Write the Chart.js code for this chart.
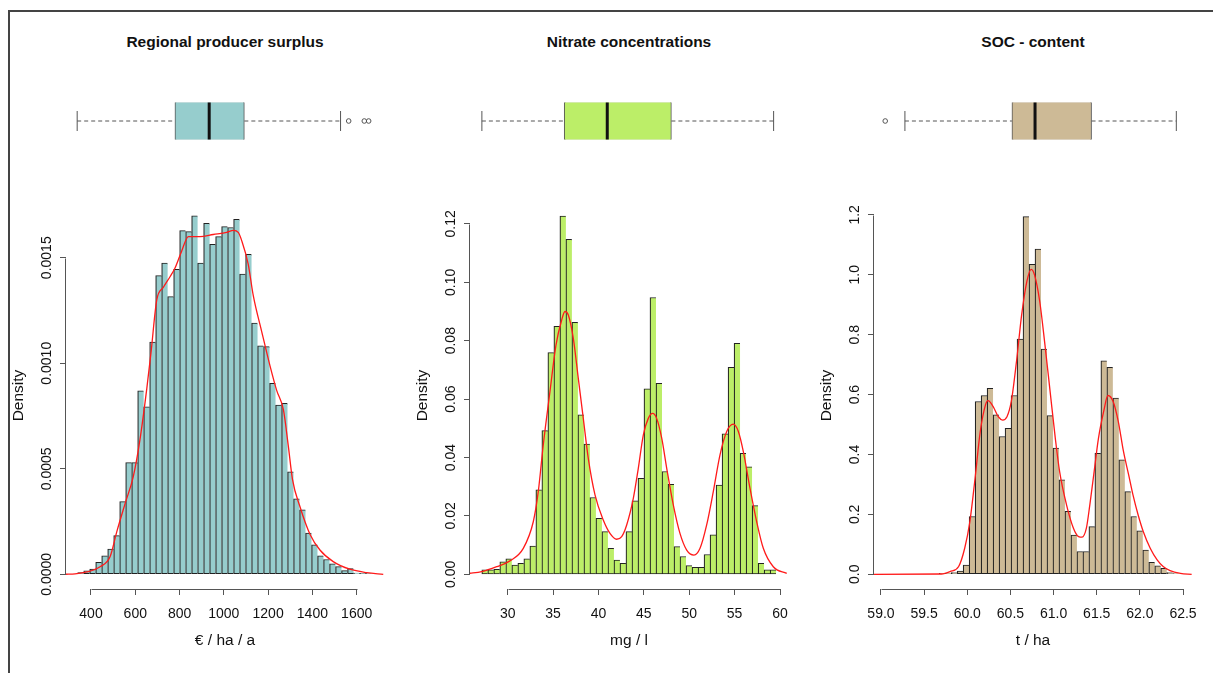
<!DOCTYPE html>
<html>
<head>
<meta charset="utf-8">
<script src="https://cdn.jsdelivr.net/npm/chart.js@4.4.1/dist/chart.umd.min.js"></script>
<style>
html, body { margin: 0; padding: 0; background: #fff; }
body { width: 1213px; height: 673px; position: relative; overflow: hidden; font-family: "Liberation Sans", Arial, sans-serif; }
#frame { position: absolute; left: 8px; top: 10px; width: 1230px; height: 690px; border-top: 2px solid #444; border-left: 2px solid #444; }
.ttl { position: absolute; top: 33px; width: 318px; text-align: center; font-weight: bold; font-size: 15.5px; line-height: 18px; color: #111; }
canvas { position: absolute; }
</style>
</head>
<body>
<div id="frame"></div>
<script>
// ---- Regional producer surplus (€ / ha / a) ----
const surplusBreaks = [340, 1667]; // 49 equal bins between min and max
const surplusDensity = [0.0000076, 0.000016, 0.000025, 0.000057, 0.000088, 0.00012, 0.000183, 0.000344, 0.000529, 0.000529,
  0.000869, 0.000794, 0.0011, 0.001415, 0.001474, 0.001316, 0.001445, 0.001628, 0.001624, 0.001698,
  0.001474, 0.001663, 0.001564, 0.0016, 0.001647, 0.001643, 0.001682, 0.001423, 0.001516, 0.00119,
  0.001083, 0.001079, 0.000905, 0.000802, 0.00081, 0.000486, 0.000357, 0.000305, 0.000195, 0.00014,
  0.000088, 0.00007, 0.00005, 0.000036, 0.000017, 0.000027, 0.000006, 0.000005, 0.000004];
const surplusCurveX = [283, 328, 381, 441, 486, 516, 554, 591, 621, 652, 671, 697, 727, 757, 779, 809, 840, 892, 952, 1013,
  1043, 1065, 1081, 1110, 1133, 1171, 1208, 1239, 1269, 1291, 1310, 1344, 1389, 1434, 1494, 1569, 1645, 1720];
const surplusCurveY = [0, 0.000002, 0.000011, 0.000036, 0.000083, 0.0002, 0.000335, 0.000463, 0.000637, 0.00088,
  0.00105, 0.0013, 0.00136, 0.00141, 0.00145, 0.00153, 0.0016, 0.0016, 0.00161, 0.00162,
  0.00163, 0.00162, 0.00158, 0.00147, 0.00132, 0.00115, 0.00099, 0.00087, 0.00078, 0.00061,
  0.00045, 0.00032, 0.00019, 0.000115, 0.00006, 0.000024, 0.000008, 0];
const surplusBox = [338, 783, 939, 1099, 1537]; // whisker, q1, median, q3, whisker
const surplusOutliers = [1574, 1645, 1665];
const surplusXTicks = [400, 600, 800, 1000, 1200, 1400, 1600];
const surplusXLabels = ['400', '600', '800', '1000', '1200', '1400', '1600'];
const surplusYTicks = [0, 0.0005, 0.001, 0.0015];
const surplusYLabels = ['0.0000', '0.0005', '0.0010', '0.0015'];

// ---- Nitrate concentrations (mg / l) ----
const nitrateBreaks = [27.15, 59.57];
const nitrateDensity = [0.0015, 0.0015, 0.0017, 0.0043, 0.0053, 0.0032, 0.0038, 0.0053, 0.0097, 0.0289,
  0.0492, 0.0759, 0.0849, 0.1227, 0.1147, 0.0863, 0.0546, 0.0446, 0.0263, 0.0192,
  0.0146, 0.0089, 0.0049, 0.0038, 0.0146, 0.0252, 0.0329, 0.0635, 0.0948, 0.0654,
  0.0352, 0.0308, 0.0095, 0.0061, 0.003, 0.0024, 0.0024, 0.0068, 0.0135, 0.0306,
  0.0481, 0.0709, 0.0791, 0.0414, 0.0368, 0.0235, 0.0038, 0.0015, 0.0015];
const nitrateCurveX = [25.7, 27.14, 28.79, 30.25, 31.72, 32.82, 33.37, 33.92, 34.66, 35.32, 35.95, 36.31, 36.68, 37.23, 37.78, 38.33,
  38.88, 39.62, 40.53, 41.27, 42.0, 42.56, 43.11, 43.84, 44.39, 44.94, 45.49, 45.97, 46.41, 46.97, 47.52, 48.25,
  48.98, 49.72, 50.52, 51.19, 51.92, 52.65, 53.39, 54.13, 54.85, 55.41, 55.96, 56.69, 57.43, 58.16, 59.26, 60.74];
const nitrateCurveY = [0.0003, 0.0009, 0.0026, 0.0046, 0.0089, 0.018, 0.0283, 0.0443, 0.0626, 0.0785, 0.0871, 0.09, 0.0888, 0.0808, 0.0671, 0.0534,
  0.0397, 0.0272, 0.0186, 0.014, 0.012, 0.0129, 0.0169, 0.026, 0.0363, 0.0477, 0.0534, 0.0551, 0.0534, 0.0466, 0.0363, 0.0237,
  0.014, 0.0083, 0.0066, 0.0089, 0.0169, 0.0283, 0.0409, 0.0489, 0.0514, 0.0489, 0.042, 0.0295, 0.018, 0.0089, 0.0026, 0.0003];
const nitrateBox = [27.17, 36.31, 41.09, 48.21, 59.56];
const nitrateOutliers = [];
const nitrateXTicks = [30, 35, 40, 45, 50, 55, 60];
const nitrateXLabels = ['30', '35', '40', '45', '50', '55', '60'];
const nitrateYTicks = [0, 0.02, 0.04, 0.06, 0.08, 0.10, 0.12];
const nitrateYLabels = ['0.00', '0.02', '0.04', '0.06', '0.08', '0.10', '0.12'];

// ---- SOC - content (t / ha) ----
const socBreaks = [59.05, 62.45];
const socDensity = [0, 0, 0, 0, 0, 0, 0, 0, 0, 0.003,
  0.003, 0.006, 0.011, 0.031, 0.193, 0.577, 0.597, 0.621, 0.532, 0.46,
  0.487, 0.597, 0.785, 1.194, 1.035, 1.086, 0.752, 0.53, 0.421, 0.315,
  0.21, 0.131, 0.076, 0.076, 0.159, 0.404, 0.713, 0.691, 0.588, 0.382,
  0.276, 0.193, 0.145, 0.081, 0.04, 0.028, 0.02, 0.006, 0.002];
const socCurveX = [58.87, 59.70, 59.80, 59.90, 59.97, 60.03, 60.09, 60.15, 60.21, 60.24, 60.30, 60.36, 60.41, 60.46, 60.51, 60.57,
  60.63, 60.69, 60.74, 60.78, 60.84, 60.90, 60.96, 61.02, 61.07, 61.15, 61.23, 61.29, 61.33, 61.38, 61.42, 61.47,
  61.52, 61.58, 61.63, 61.69, 61.75, 61.81, 61.87, 61.92, 61.98, 62.04, 62.12, 62.20, 62.27, 62.35, 62.47, 62.6];
const socCurveY = [0, 0.001, 0.009, 0.026, 0.087, 0.176, 0.32, 0.476, 0.565, 0.58, 0.56, 0.526, 0.515, 0.526, 0.577, 0.71,
  0.866, 0.977, 1.018, 0.999, 0.91, 0.766, 0.61, 0.454, 0.343, 0.232, 0.154, 0.126, 0.124, 0.154, 0.232, 0.343,
  0.454, 0.543, 0.597, 0.577, 0.51, 0.41, 0.332, 0.265, 0.198, 0.142, 0.087, 0.048, 0.026, 0.012, 0.003, 0];
const socBox = [59.28, 60.53, 60.80, 61.46, 62.45];
const socOutliers = [59.05];
const socXTicks = [59, 59.5, 60, 60.5, 61, 61.5, 62, 62.5];
const socXLabels = ['59.0', '59.5', '60.0', '60.5', '61.0', '61.5', '62.0', '62.5'];
const socYTicks = [0, 0.2, 0.4, 0.6, 0.8, 1.0, 1.2];
const socYLabels = ['0.0', '0.2', '0.4', '0.6', '0.8', '1.0', '1.2'];

const FONT = '"Liberation Sans", Arial, sans-serif';
const AXIS = '#555';
const TXT = '#111';
Chart.defaults.font.family = FONT;
Chart.defaults.color = TXT;

const panels = [
  { left: 0, title: 'Regional producer surplus', xTitle: '€ / ha / a', fill: '#96CDCD',
    xMin: 287.1, xMax: 1723.4, yMin: -0.0000697, yMax: 0.001764,
    breaks: surplusBreaks, density: surplusDensity, curveX: surplusCurveX, curveY: surplusCurveY,
    box: surplusBox, outliers: surplusOutliers,
    xTicks: surplusXTicks, xLabels: surplusXLabels, yTicks: surplusYTicks, yLabels: surplusYLabels },
  { left: 404, title: 'Nitrate concentrations', xTitle: 'mg / l', fill: '#BCEE68',
    xMin: 25.85, xMax: 60.88, yMin: -0.00503, yMax: 0.1275,
    breaks: nitrateBreaks, density: nitrateDensity, curveX: nitrateCurveX, curveY: nitrateCurveY,
    box: nitrateBox, outliers: nitrateOutliers,
    xTicks: nitrateXTicks, xLabels: nitrateXLabels, yTicks: nitrateYTicks, yLabels: nitrateYLabels },
  { left: 808, title: 'SOC - content', xTitle: 't / ha', fill: '#CDBA96',
    xMin: 58.919, xMax: 62.604, yMin: -0.0491, yMax: 1.243,
    breaks: socBreaks, density: socDensity, curveX: socCurveX, curveY: socCurveY,
    box: socBox, outliers: socOutliers,
    xTicks: socXTicks, xLabels: socXLabels, yTicks: socYTicks, yLabels: socYLabels }
];

// bin midpoints of equal-width histogram breaks
function binMids(br, n) {
  const w = (br[1] - br[0]) / n;
  return Array.from({ length: n }, (_, i) => br[0] + w * (i + 0.5));
}

// R style axes: the line only runs from the first to the last tick
const rAxes = {
  id: 'rAxes',
  afterDraw(chart) {
    const { ctx, chartArea } = chart;
    const xs = chart.scales.x, ys = chart.scales.y;
    const x0 = xs.getPixelForValue(xs.ticks[0].value), x1 = xs.getPixelForValue(xs.ticks[xs.ticks.length - 1].value);
    const y0 = ys.getPixelForValue(ys.ticks[0].value), y1 = ys.getPixelForValue(ys.ticks[ys.ticks.length - 1].value);
    const ax = Math.round(chartArea.left) - 0.5, ay = Math.round(chartArea.bottom) + 0.5;
    ctx.save();
    ctx.strokeStyle = AXIS;
    ctx.lineWidth = 1;
    ctx.beginPath();
    ctx.moveTo(ax, Math.round(y0) + 0.5);
    ctx.lineTo(ax, Math.round(y1) + 0.5);
    ctx.moveTo(Math.round(x0) + 0.5, ay);
    ctx.lineTo(Math.round(x1) + 0.5, ay);
    ctx.stroke();
    ctx.restore();
  }
};

function addCanvas(left, top, w, h) {
  const cv = document.createElement('canvas');
  cv.width = w; cv.height = h;
  cv.style.left = left + 'px';
  cv.style.top = top + 'px';
  document.body.appendChild(cv);
  return cv;
}

function histChart(p) {
  const cv = addCanvas(p.left, 190, 404, 483);
  const mctx = cv.getContext('2d');
  mctx.font = '14px ' + FONT;
  const widest = Math.max(...p.yLabels.map(s => mctx.measureText(s).width));
  const mids = binMids(p.breaks, p.density.length);

  new Chart(cv, {
    type: 'bar',
    data: {
      datasets: [
        {
          type: 'line',
          data: p.curveX.map((x, i) => ({ x: x, y: p.curveY[i] })),
          borderColor: '#ff1a1a',
          borderWidth: 1.3,
          pointRadius: 0,
          cubicInterpolationMode: 'monotone',
          order: 1
        },
        {
          type: 'bar',
          data: mids.map((x, i) => ({ x: x, y: p.density[i] })),
          backgroundColor: p.fill,
          borderColor: '#222',
          borderWidth: { left: 1.2, right: 0, top: 1, bottom: 1 },
          borderSkipped: false,
          barPercentage: 1,
          categoryPercentage: 1,
          order: 2
        }
      ]
    },
    options: {
      responsive: false,
      animation: false,
      devicePixelRatio: 1,
      events: [],
      layout: { padding: { top: 12, right: 20, left: 0, bottom: 0 } },
      plugins: { legend: { display: false }, tooltip: { enabled: false } },
      scales: {
        x: {
          type: 'linear', min: p.xMin, max: p.xMax, offset: false,
          afterBuildTicks: s => { s.ticks = p.xTicks.map(v => ({ value: v })); },
          afterFit: s => { s.height = 84; },
          ticks: { callback: (v, i) => p.xLabels[i], font: { size: 14 }, padding: 11, maxRotation: 0, autoSkip: false, color: TXT },
          grid: { display: true, drawOnChartArea: false, drawTicks: true, tickLength: 6, color: AXIS, offset: false },
          border: { display: false },
          title: { display: true, text: p.xTitle, font: { size: 15.5 }, padding: { top: 0, bottom: 23 }, color: TXT }
        },
        y: {
          type: 'linear', min: p.yMin, max: p.yMax,
          afterBuildTicks: s => { s.ticks = p.yTicks.map(v => ({ value: v })); },
          afterFit: s => { s.width = 66; },
          ticks: { callback: (v, i) => p.yLabels[i], font: { size: 14 }, minRotation: 90, maxRotation: 90,
                   crossAlign: 'center', padding: 13 - widest / 2, autoSkip: false, color: TXT },
          grid: { display: true, drawOnChartArea: false, drawTicks: true, tickLength: 6, color: AXIS },
          border: { display: false },
          title: { display: true, text: 'Density', font: { size: 15.5 }, padding: { top: 9.7, bottom: 0 }, color: TXT }
        }
      }
    },
    plugins: [rAxes]
  });
}

function boxChart(p) {
  const cv = addCanvas(p.left, 80, 404, 82);
  const b = p.box;
  new Chart(cv, {
    type: 'scatter',
    data: {
      datasets: [
        { type: 'scatter', showLine: true, data: [{ x: b[0], y: 0 }, { x: b[1], y: 0 }],
          borderColor: AXIS, borderWidth: 1, borderDash: [4, 3], pointRadius: 0, order: 4 },
        { type: 'scatter', showLine: true, data: [{ x: b[3], y: 0 }, { x: b[4], y: 0 }],
          borderColor: AXIS, borderWidth: 1, borderDash: [4, 3], pointRadius: 0, order: 4 },
        { type: 'bar', indexAxis: 'y', data: [{ x: [b[1], b[3]], y: 0 }],
          backgroundColor: p.fill, borderColor: '#555', borderWidth: 1, borderSkipped: false, barThickness: 40, order: 3 },
        { type: 'scatter', data: [{ x: b[2], y: 0 }],
          pointStyle: 'line', pointRotation: 90, pointRadius: 19.5, pointBorderWidth: 3, pointBorderColor: '#111', order: 0 },
        { type: 'scatter', data: [{ x: b[0], y: 0 }, { x: b[4], y: 0 }],
          pointStyle: 'line', pointRotation: 90, pointRadius: 10, pointBorderWidth: 1, pointBorderColor: AXIS, order: 1 },
        { type: 'scatter', data: p.outliers.map(x => ({ x: x, y: 0 })),
          pointStyle: 'circle', pointRadius: 2.3, pointBorderWidth: 1, pointBorderColor: AXIS,
          pointBackgroundColor: 'rgba(0,0,0,0)', order: 1 }
      ]
    },
    options: {
      responsive: false,
      animation: false,
      devicePixelRatio: 1,
      events: [],
      layout: { padding: { left: 66, right: 20, top: 0, bottom: 0 } },
      plugins: { legend: { display: false }, tooltip: { enabled: false } },
      scales: {
        x: { type: 'linear', min: p.xMin, max: p.xMax, display: false },
        y: { type: 'linear', min: -1, max: 1, display: false }
      }
    }
  });
}

panels.forEach(p => {
  const t = document.createElement('div');
  t.className = 'ttl';
  t.style.left = (p.left + 66) + 'px';
  t.textContent = p.title;
  document.body.appendChild(t);
  boxChart(p);
  histChart(p);
});
</script>
</body>
</html>
